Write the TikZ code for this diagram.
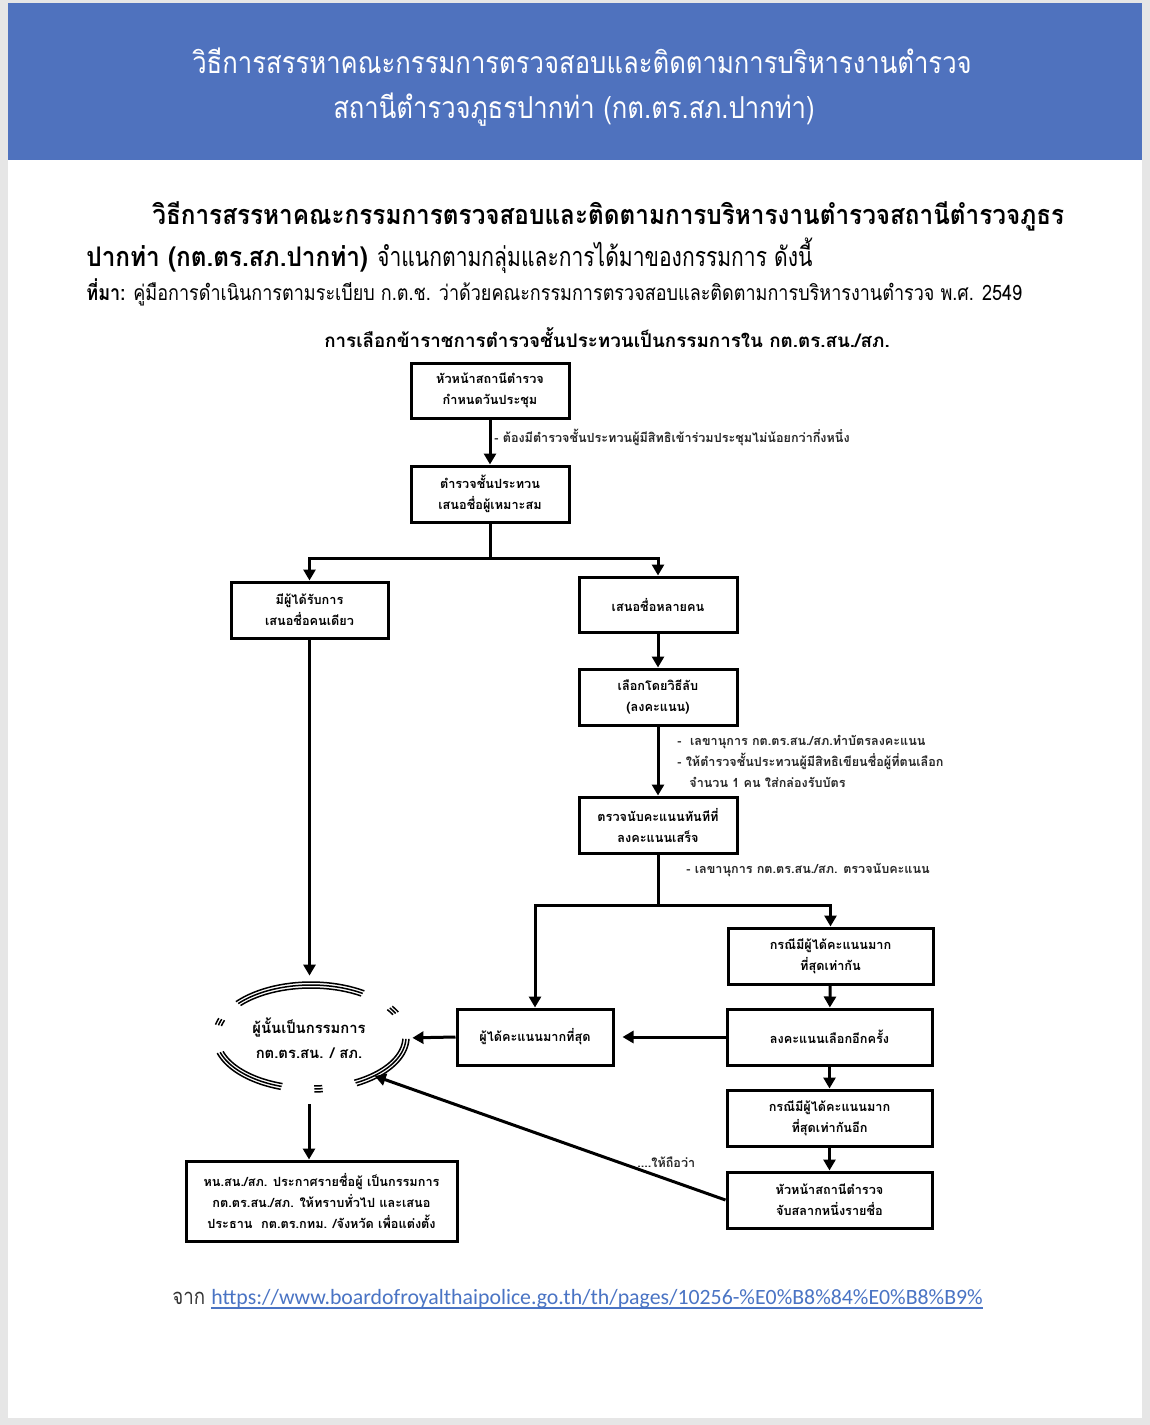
\documentclass[tikz,border=0pt]{standalone}
\usepackage{fontspec}
\setmainfont{Loma}[Script=Thai]
\newfontfamily\condfont{Loma}[Script=Thai, FakeStretch=0.85]
\newfontfamily\paraB{Loma}[Script=Thai, FakeStretch=0.9]
\newfontfamily\paraN{Loma}[Script=Thai, FakeStretch=0.78]
\newfontfamily\linkfont{Carlito}
\usetikzlibrary{arrows.meta,shapes.geometric}
\definecolor{hdrblue}{HTML}{4F72BE}
\definecolor{linkblue}{HTML}{4A74C4}
\definecolor{pagegray}{HTML}{E6E6E6}
\begin{document}
\begin{tikzpicture}[x=0.5pt,y=-0.5pt,
  fbox/.style={draw, line width=1.5pt, align=center, inner sep=0pt,
    font=\bfseries\fontsize{6.35}{10.5}\selectfont},
  arr/.style={line width=1.5pt, -{Triangle[length=5.5pt,width=6pt]}},
  plainline/.style={line width=1.5pt},
  ann/.style={font=\bfseries\fontsize{6.3}{10}\selectfont, anchor=base west, text=black!85, inner sep=0pt},
  tri/.style={line width=0.75pt}]
\useasboundingbox (0,0) rectangle (1150,1425);
\fill[pagegray] (0,0) rectangle (1150,1425);
\fill[white] (8,3) rectangle (1142,1418);
\fill[hdrblue] (8,3) rectangle (1142,160);
% header
\node[anchor=base, inner sep=0pt, text=white, font=\condfont\fontsize{15.1}{17}\selectfont] (h1) at (582,73)
  {วิธีการสรรหาคณะกรรมการตรวจสอบและติดตามการบริหารงานตำรวจ};
\node[anchor=base, inner sep=0pt, text=white, font=\condfont\fontsize{15.1}{17}\selectfont] (h2) at (574,118)
  {สถานีตำรวจภูธรปากท่า (กต.ตร.สภ.ปากท่า)};
% paragraph
\node[anchor=base west, inner sep=0pt, font=\paraB\bfseries\fontsize{13.5}{16}\selectfont] (p1) at (152,224)
  {วิธีการสรรหาคณะกรรมการตรวจสอบและติดตามการบริหารงานตำรวจสถานีตำรวจภูธร};
\node[anchor=base west, inner sep=0pt, font=\fontsize{13.5}{16}\selectfont] (p2) at (86,266)
  {{\paraB\bfseries ปากท่า (กต.ตร.สภ.ปากท่า)} {\paraN จำแนกตามกลุ่มและการได้มาของกรรมการ ดังนี้}};
\node[anchor=base west, inner sep=0pt, font=\condfont\fontsize{10.6}{12}\selectfont] (src) at (86,300)
  {\textbf{ที่มา:} คู่มือการดำเนินการตามระเบียบ ก.ต.ช. ว่าด้วยคณะกรรมการตรวจสอบและติดตามการบริหารงานตำรวจ พ.ศ. 2549};
\node[anchor=base, inner sep=0pt, font=\bfseries\fontsize{9.4}{11}\selectfont] (title) at (607,347)
  {การเลือกข้าราชการตำรวจชั้นประทวนเป็นกรรมการใน กต.ตร.สน./สภ.};
% boxes
\node[fbox, minimum width=79pt, minimum height=27.5pt] (b1) at (490,390.5) {หัวหน้าสถานีตำรวจ\\กำหนดวันประชุม};
\node[fbox, minimum width=79pt, minimum height=28pt] (b2) at (490,494) {ตำรวจชั้นประทวน\\เสนอชื่อผู้เหมาะสม};
\node[fbox, minimum width=78.5pt, minimum height=28pt] (b3) at (309.5,610) {มีผู้ได้รับการ\\เสนอชื่อคนเดียว};
\node[fbox, minimum width=79pt, minimum height=27.5pt] (b4) at (658,604.5) {เสนอชื่อหลายคน};
\node[fbox, minimum width=79pt, minimum height=28pt] (b5) at (658,697) {เลือกโดยวิธีลับ\\(ลงคะแนน)};
\node[fbox, minimum width=79pt, minimum height=28pt] (b6) at (658,825) {ตรวจนับคะแนนทันทีที่\\ลงคะแนนเสร็จ};
\node[fbox, minimum width=78pt, minimum height=28pt] (best) at (535,1037) {ผู้ได้คะแนนมากที่สุด};
\node[fbox, minimum width=102.5pt, minimum height=28pt] (b7) at (830.5,956) {กรณีมีผู้ได้คะแนนมาก\\ที่สุดเท่ากัน};
\node[fbox, minimum width=102.5pt, minimum height=28pt] (b8) at (829.5,1037) {ลงคะแนนเลือกอีกครั้ง};
\node[fbox, minimum width=102.5pt, minimum height=28pt] (b9) at (829.5,1118) {กรณีมีผู้ได้คะแนนมาก\\ที่สุดเท่ากันอีก};
\node[fbox, minimum width=102.5pt, minimum height=28pt] (b10) at (829.5,1200) {หัวหน้าสถานีตำรวจ\\จับสลากหนึ่งรายชื่อ};
\node[fbox, minimum width=135.5pt, minimum height=40pt] (b11) at (321.5,1201)
  {หน.สน./สภ. ประกาศรายชื่อผู้ เป็นกรรมการ\\กต.ตร.สน./สภ. ให้ทราบทั่วไป และเสนอ\\ประธาน\ \ กต.ตร.กทม. /จังหวัด เพื่อแต่งตั้ง};
% committee ellipse
\node[ellipse, minimum width=95pt, minimum height=52pt, inner sep=0pt, align=center,
  font=\bfseries\fontsize{7.4}{12.5}\selectfont] (comm) at (309,1038) {ผู้นั้นเป็นกรรมการ\\กต.ตร.สน. / สภ.};
\foreach \a/\b in {57/140, 27/34, 160/167, 197/252, 272/277, 298/358}{
  \foreach \d in {-3,0,3}{
    \draw[tri] plot[domain=\a:\b, samples=25] ({311+(95+\d)*cos(\x)}, {1037-(52+\d)*sin(\x)});
  }
}
% connectors
\draw[arr] (b1) -- (b2);
\draw[plainline] (b2.south) -- (490,558) coordinate (s1);
\draw[arr] (s1) -| (b3.north);
\draw[arr] (s1) -| (b4.north);
\draw[arr] (b4) -- (b5);
\draw[arr] (b5) -- (b6);
\draw[plainline] (b6.south) -- (658,905) coordinate (s2);
\draw[arr] (s2) -| (best.north);
\draw[arr] (s2) -| (b7.north);
\draw[arr] (b7) -- (b8);
\draw[arr] (b8) -- (b9);
\draw[arr] (b9) -- (b10);
\draw[arr, shorten >=4pt] (b8.west) -- (best.east);
\draw[arr, shorten >=4pt] (best.west) -- (comm.east);
\draw[arr, shorten >=5pt] (b3.south) -- (b3.south |- comm.north);
\draw[arr] (b10.west) -- (comm.-30);
\draw[arr, shorten <=7pt] (comm.south) -- (comm.south |- b11.north);
% annotations
\node[ann] (a1) at (494,442) {- ต้องมีตำรวจชั้นประทวนผู้มีสิทธิเข้าร่วมประชุมไม่น้อยกว่ากึ่งหนึ่ง};
\node[ann] (a2) at (677,745) {-\ \ เลขานุการ กต.ตร.สน./สภ.ทำบัตรลงคะแนน};
\node[ann] (a3) at (677,766) {- ให้ตำรวจชั้นประทวนผู้มีสิทธิเขียนชื่อผู้ที่ตนเลือก};
\node[ann] (a4) at (689,787) {จำนวน 1 คน ใส่กล่องรับบัตร};
\node[ann] (a5) at (686,873) {- เลขานุการ กต.ตร.สน./สภ. ตรวจนับคะแนน};
\node[ann] (a6) at (637,1167) {....ให้ถือว่า};
% link
\node[anchor=base west, inner sep=0pt, font=\condfont\fontsize{11}{13}\selectfont, text=black!80] (jak) at (172,1304) {จาก};
\node[anchor=base west, inner sep=0pt, font=\linkfont\fontsize{10.9}{13}\selectfont, text=linkblue] (url) at (211,1304)
  {https://www.boardofroyalthaipolice.go.th/th/pages/10256-\%E0\%B8\%84\%E0\%B8\%B9\%};
\draw[linkblue, line width=0.6pt] ([yshift=-2pt]url.base west) -- ([yshift=-2pt]url.base east);
\end{tikzpicture}
\end{document}
